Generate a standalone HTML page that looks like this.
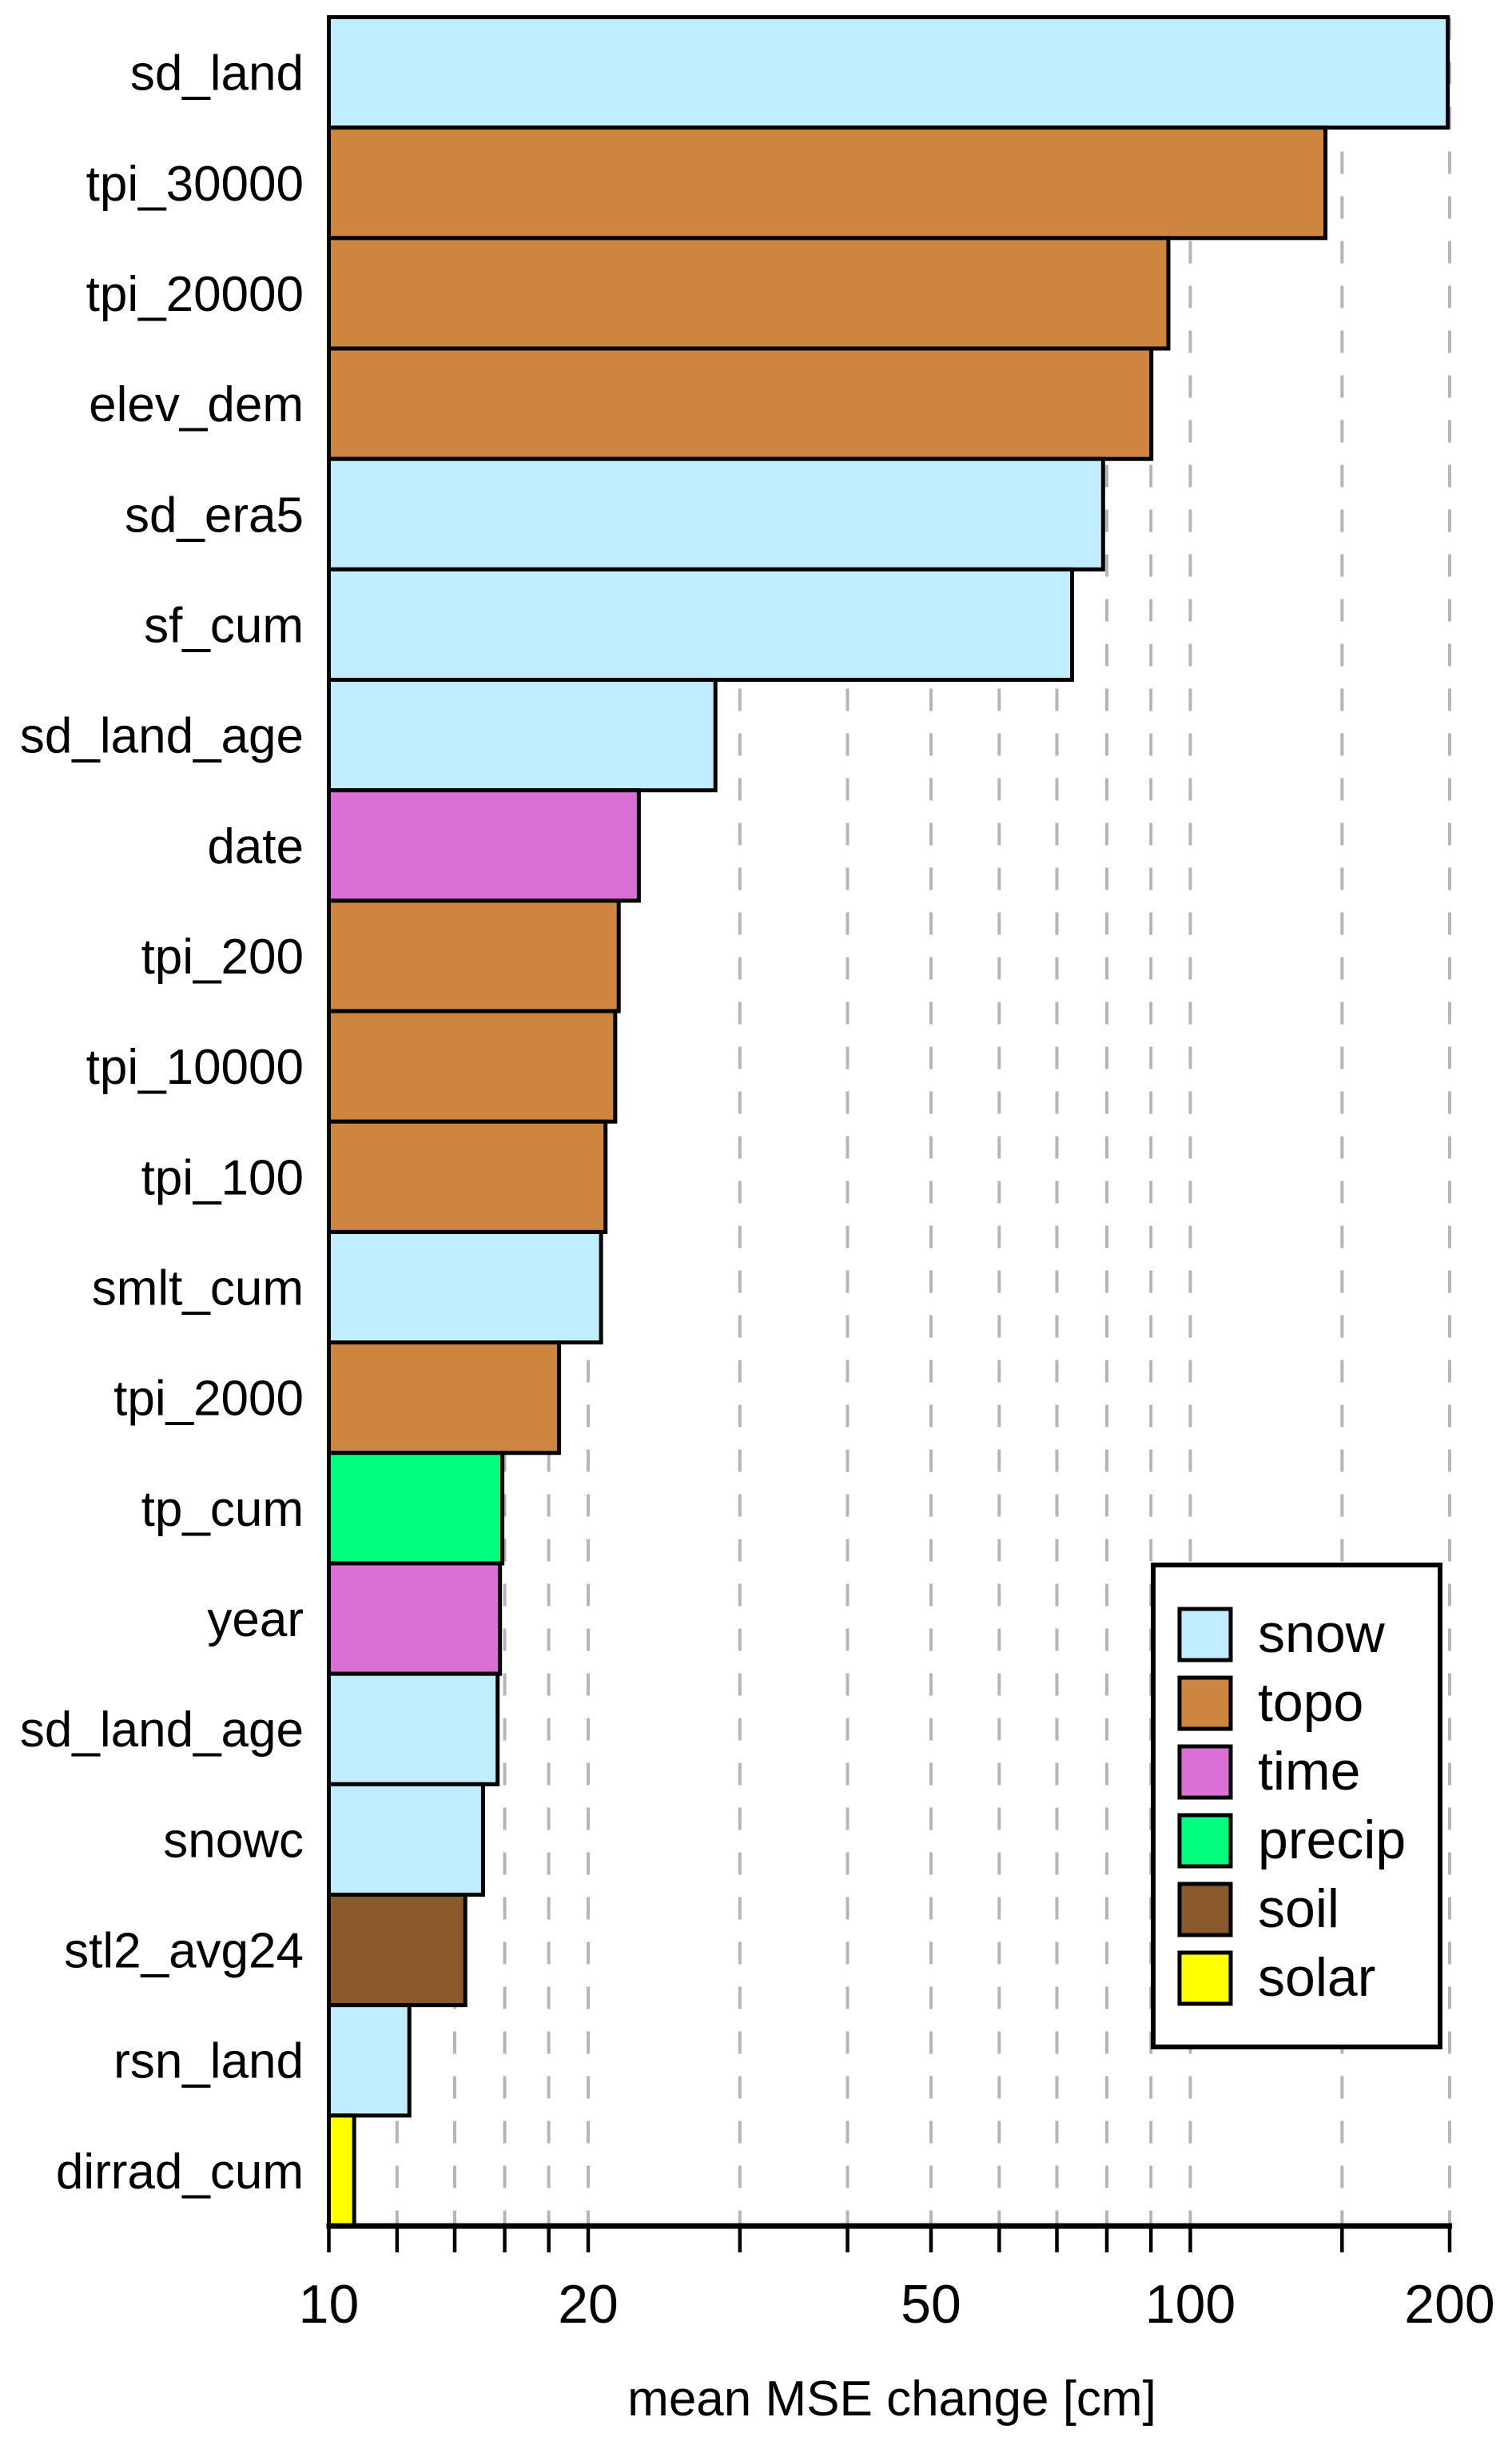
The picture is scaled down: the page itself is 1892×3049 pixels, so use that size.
<!DOCTYPE html>
<html><head><meta charset="utf-8"><style>
html,body{margin:0;padding:0;background:#fff;}
svg{display:block;font-family:"Liberation Sans",Arial,sans-serif;}
</style></head><body>
<svg id="chart" width="1892" height="3049" viewBox="0 0 1892 3049" xmlns="http://www.w3.org/2000/svg">
<g id="grid"></g>
<g id="bars"></g>
<g id="ylabels"></g>
<g id="xaxis"></g>
<text x="1116" y="3022" font-size="62" text-anchor="middle">mean MSE change [cm]</text>
<g id="legend"></g>
</svg>
<script>
const categories = ["sd_land","tpi_30000","tpi_20000","elev_dem","sd_era5","sf_cum","sd_land_age","date","tpi_200","tpi_10000","tpi_100","smlt_cum","tpi_2000","tp_cum","year","sd_land_age","snowc","stl2_avg24","rsn_land","dirrad_cum"];
const values = [199,143.5,94.3,90.1,79.2,72.9,28.1,22.9,21.7,21.5,20.95,20.7,18.5,15.9,15.8,15.7,15.1,14.4,12.4,10.7];
const groups = ["snow","topo","topo","topo","snow","snow","snow","time","topo","topo","topo","snow","topo","precip","time","snow","snow","soil","snow","solar"];
const legendGroups = ["snow","topo","time","precip","soil","solar"];
const groupColors = ["#c0eefe","#cd853f","#da70d6","#00ff7f","#8b5a2b","#ffff00"];
const gridValues = [12,14,16,18,20,30,40,50,60,70,80,90,100,150,200];
const tickValues = [10,12,14,16,18,20,30,40,50,60,70,80,90,100,150,200];
const tickLabels = [10,20,50,100,200];

const NS="http://www.w3.org/2000/svg";
const X0=411.5, X1=1814, TOP=21.5, BOT=2785;
const xs=v=>X0+(Math.log10(v)-1)/Math.log10(20)*(X1-X0);
const pitch=(BOT-TOP)/categories.length;
const ys=i=>TOP+i*pitch;
function mk(tag,attrs,parent){const e=document.createElementNS(NS,tag);for(const k in attrs)e.setAttribute(k,attrs[k]);parent.appendChild(e);return e;}
const gGrid=document.getElementById('grid'),gBars=document.getElementById('bars'),gY=document.getElementById('ylabels'),gX=document.getElementById('xaxis'),gL=document.getElementById('legend');
gridValues.forEach(v=>{
  const l=mk('line',{x1:xs(v),x2:xs(v),y1:TOP,y2:BOT,stroke:'#b5b5b5','stroke-width':4,'stroke-dasharray':'28,28'},gGrid);
  
  
});
categories.forEach((c,i)=>{
  const col=groupColors[legendGroups.indexOf(groups[i])];
  const r=mk('rect',{x:X0,y:ys(i),width:xs(values[i])-X0,height:pitch,fill:col,stroke:'#000','stroke-width':5},gBars);
  
  
  const t=mk('text',{x:380,y:ys(i)+pitch/2+22,'font-size':62,'text-anchor':'end'},gY);
  t.textContent=c;
  
  
});
const ax=mk('line',{x1:X0-3,x2:X1+3,y1:BOT,y2:BOT,stroke:'#000','stroke-width':7},gX);


tickValues.forEach(v=>{
  const t=mk('line',{x1:xs(v),x2:xs(v),y1:BOT,y2:BOT+33,stroke:'#000','stroke-width':4.5},gX);
  
  
});
tickLabels.forEach(v=>{
  const t=mk('text',{x:xs(v),y:2906,'font-size':68,'text-anchor':'middle'},gX);
  t.textContent=v;
  
  
});
const box=mk('rect',{x:1443,y:1958,width:359,height:603,fill:'#fff',stroke:'#000','stroke-width':6},gL);


legendGroups.forEach((g,i)=>{
  const y=2013+i*86;
  const s=mk('rect',{x:1476,y:y,width:64,height:64,fill:groupColors[i],stroke:'#000','stroke-width':5},gL);
  
  
  const t=mk('text',{x:1574,y:y+54,'font-size':68},gL);
  t.textContent=g;
  
  
});
</script>
</body></html>
